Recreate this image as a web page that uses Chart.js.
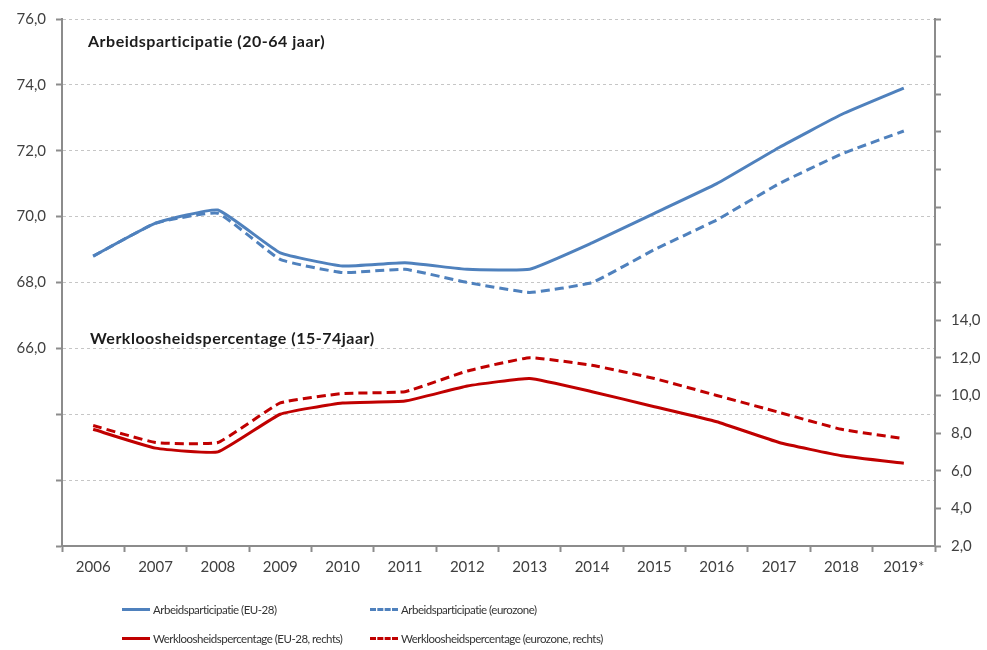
<!DOCTYPE html>
<html>
<head>
<meta charset="utf-8">
<script src="https://cdn.jsdelivr.net/npm/chart.js@4.4.1/dist/chart.umd.min.js"></script>
<style>
  html, body { margin: 0; padding: 0; background: #fff; }
  #wrap { position: relative; width: 987px; height: 650px; }
  #chart { position: absolute; left: 0; top: 0; }
  #legend { position: absolute; left: 0; top: 0; width: 987px; height: 650px; pointer-events: none;
            font-family: Lato, 'Liberation Sans', sans-serif; font-size: 11.5px; letter-spacing: -0.5px; color: #333; }
  .lg-item { position: absolute; display: flex; align-items: center; height: 16px; white-space: nowrap; }
  .lg-swatch { width: 28px; height: 0; border-top-width: 3px; margin-right: 3px; }
</style>
</head>
<body>
<div id="wrap">
  <canvas id="chart" width="987" height="650"></canvas>
  <div id="legend"></div>
</div>
<script>
  'use strict';

  /* global Chart */

  var years = ['2006', '2007', '2008', '2009', '2010', '2011', '2012',
               '2013', '2014', '2015', '2016', '2017', '2018', '2019*'];

  // Arbeidsparticipatie 20-64 jaar (linker as)
  var arbEu28 = [68.8, 69.8, 70.2, 68.9, 68.5, 68.6, 68.4, 68.4, 69.2, 70.1, 71.0, 72.1, 73.1, 73.9];
  var arbEurozone = [68.8, 69.8, 70.1, 68.7, 68.3, 68.4, 68.0, 67.7, 68.0, 69.0, 69.9, 71.0, 71.9, 72.6];

  // Werkloosheidspercentage 15-74 jaar (rechter as)
  var werkEu28 = [8.2, 7.2, 7.0, 9.0, 9.6, 9.7, 10.5, 10.9, 10.2, 9.4, 8.6, 7.5, 6.8, 6.4];
  var werkEurozone = [8.4, 7.5, 7.5, 9.6, 10.1, 10.2, 11.3, 12.0, 11.6, 10.9, 10.0, 9.1, 8.2, 7.7];

  var leftAxisRange = [60, 76];
  var rightAxisRange = [2, 30];
  var leftLabelFrom = 66;
  var rightLabelTo = 14;

  var panelTitles = ['Arbeidsparticipatie (20-64 jaar)', 'Werkloosheidspercentage (15-74jaar)'];

  var blue = '#4f81bd';
  var red = '#c00000';
  var axisGray = '#8c8c8c';
  var gridGray = '#c6c6c6';
  var labelColor = '#404040';
  var fontFamily = "Lato, 'Liberation Sans', sans-serif";

  function fmt(v) {
    return v.toFixed(1).replace('.', ',');
  }

  var panelTitlePlugin = {
    id: 'panelTitles',
    afterDatasetsDraw: function (chart) {
      var ctx = chart.ctx;
      var yL = chart.scales.yL;
      var x = chart.chartArea.left + 26;
      ctx.save();
      ctx.font = 'bold 16px ' + fontFamily;
      ctx.letterSpacing = '0.5px';
      ctx.fillStyle = '#1c1c1c';
      ctx.textBaseline = 'middle';
      ctx.fillText(panelTitles[0], x, yL.getPixelForValue(75.3));
      ctx.fillText(panelTitles[1], x + 2, yL.getPixelForValue(66.3));
      ctx.restore();
    }
  };

  var ctx = document.getElementById('chart');
  var chart = new Chart(ctx, {
    type: 'line',
    data: {
      labels: years,
      datasets: [{
        label: 'Arbeidsparticipatie (EU-28)',
        data: arbEu28,
        yAxisID: 'yL',
        borderColor: blue,
        borderWidth: 3,
      }, {
        label: 'Arbeidsparticipatie (eurozone)',
        data: arbEurozone,
        yAxisID: 'yL',
        borderColor: blue,
        borderWidth: 3,
        borderDash: [9, 5],
      }, {
        label: 'Werkloosheidspercentage (EU-28, rechts)',
        data: werkEu28,
        yAxisID: 'yR',
        borderColor: red,
        borderWidth: 3,
      }, {
        label: 'Werkloosheidspercentage (eurozone, rechts)',
        data: werkEurozone,
        yAxisID: 'yR',
        borderColor: red,
        borderWidth: 3,
        borderDash: [9, 5],
      }],
    },
    options: {
      responsive: false,
      animation: false,
      layout: { padding: { top: 18, bottom: 64, left: 0, right: 0 } },
      elements: {
        point: { radius: 0 },
        line: { tension: 0.12, fill: false },
      },
      plugins: {
        legend: { display: false },
        tooltip: { enabled: false },
      },
      scales: {
        x: {
          offset: true,
          grid: {
            offset: true,
            drawOnChartArea: false,
            tickLength: 6,
            color: axisGray,
            tickWidth: 2,
          },
          border: { color: axisGray, width: 2 },
          ticks: {
            color: labelColor,
            font: { family: fontFamily, size: 15 },
            padding: 6,
            maxRotation: 0,
            autoSkip: false,
          },
          afterFit: function (s) { s.height = 40; },
        },
        yL: {
          position: 'left',
          min: leftAxisRange[0],
          max: leftAxisRange[1],
          grid: {
            color: function (c) {
              return c.tick && c.tick.value === leftAxisRange[0] ? 'rgba(0,0,0,0)' : gridGray;
            },
            lineWidth: 1,
            tickColor: axisGray,
            tickLength: 6,
            tickWidth: 2,
          },
          border: { color: axisGray, width: 2, dash: [3, 3] },
          ticks: {
            stepSize: 2,
            color: labelColor,
            font: { family: fontFamily, size: 15 },
            padding: 10,
            callback: function (v) { return v >= leftLabelFrom ? fmt(v) : ''; },
          },
          afterFit: function (s) { s.width = 62; },
        },
        yR: {
          position: 'right',
          min: rightAxisRange[0],
          max: rightAxisRange[1],
          grid: {
            drawOnChartArea: false,
            color: axisGray,
            tickLength: 6,
            tickWidth: 2,
          },
          border: { color: axisGray, width: 2 },
          ticks: {
            stepSize: 2,
            color: labelColor,
            font: { family: fontFamily, size: 15 },
            padding: 10,
            callback: function (v) { return v <= rightLabelTo ? fmt(v) : ''; },
          },
          afterFit: function (s) { s.width = 52; },
        },
      },
    },
    plugins: [panelTitlePlugin],
  });

  // HTML legend in two columns, built from the datasets
  var legendEl = document.getElementById('legend');
  var legendCols = [122, 370];
  var legendRows = [601, 630];
  chart.data.datasets.forEach(function (ds, i) {
    var item = document.createElement('div');
    item.className = 'lg-item';
    item.style.left = legendCols[i % 2] + 'px';
    item.style.top = legendRows[Math.floor(i / 2)] + 'px';
    var sw = document.createElement('span');
    sw.className = 'lg-swatch';
    sw.style.borderTopColor = ds.borderColor;
    sw.style.borderTopStyle = ds.borderDash ? 'dashed' : 'solid';
    var tx = document.createElement('span');
    tx.textContent = ds.label;
    item.appendChild(sw);
    item.appendChild(tx);
    legendEl.appendChild(item);
  });
</script>
</body>
</html>
